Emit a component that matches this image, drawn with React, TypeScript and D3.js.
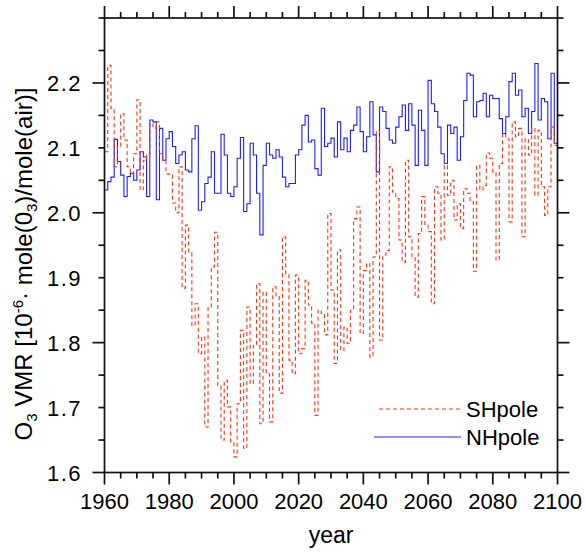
import React from 'react';
import * as d3 from 'd3';

const years = d3.range(1960, 2101);

// NH polar ozone, one value per year 1960..2100
const nhPole = [
  2.035, 2.048, 2.055, 2.113, 2.079, 2.058, 2.025, 2.056, 2.061, 2.05,
  2.066, 2.094, 2.086, 2.025, 2.143, 2.14, 2.02, 2.13, 2.081, 2.114,
  2.125, 2.102, 2.076, 2.089, 2.094, 2.066, 2.063, 2.114, 2.134, 2.004,
  2.017, 2.045, 2.055, 2.094, 2.03, 2.03, 2.121, 2.089, 2.03, 2.025,
  2.04, 2.084, 2.116, 2.002, 2.014, 2.107, 2.089, 2.03, 1.966, 2.073,
  2.107, 2.089, 2.084, 2.097, 2.086, 2.055, 2.04, 2.045, 2.045, 2.089,
  2.097, 2.135, 2.15, 2.109, 2.112, 2.068, 2.058, 2.161, 2.102, 2.107,
  2.115, 2.086, 2.14, 2.097, 2.115, 2.094, 2.127, 2.135, 2.163, 2.125,
  2.094, 2.117, 2.171, 2.12, 2.063, 2.163, 2.156, 2.13, 2.112, 2.107,
  2.132, 2.148, 2.166, 2.127, 2.168, 2.135, 2.073, 2.158, 2.127, 2.073,
  2.204, 2.168, 2.156, 2.132, 2.091, 2.076, 2.135, 2.122, 2.132, 2.081,
  2.117, 2.173, 2.215, 2.212, 2.148, 2.171, 2.173, 2.184, 2.148, 2.181,
  2.176, 2.176, 2.145, 2.122, 2.148, 2.202, 2.215, 2.181, 2.189, 2.148,
  2.161, 2.122, 2.156, 2.23, 2.143, 2.176, 2.171, 2.114, 2.215, 2.107,
  2.107,
];

// SH polar ozone, one value per year 1960..2100
const shPole = [
  2.094, 2.227, 2.161, 2.071, 2.102, 2.153, 2.112, 2.071, 2.06, 2.091,
  2.174, 2.035, 2.081, 2.091, 2.138, 2.13, 2.14, 2.091, 2.081, 2.06,
  2.058, 2.015, 2.0, 2.071, 1.884, 1.981, 1.938, 1.826, 1.86, 1.783,
  1.809, 1.67, 1.855, 1.917, 1.97, 1.734, 1.65, 1.742, 1.701, 1.647,
  1.624, 1.706, 1.819, 1.637, 1.855, 1.737, 1.796, 1.891, 1.675, 1.878,
  1.752, 1.678, 1.886, 1.871, 1.722, 1.963, 1.906, 1.773, 1.752, 1.904,
  1.783, 1.791, 1.896, 1.858, 1.83, 1.688, 1.85, 1.845, 1.812, 1.999,
  1.881, 1.768, 1.943, 1.788, 1.824, 1.799, 1.85, 1.991, 2.009, 1.814,
  1.911, 1.922, 1.778, 1.932, 2.127, 1.804, 1.935, 1.942, 2.071, 2.032,
  2.022, 1.958, 1.924, 2.081, 1.963, 1.932, 1.87, 1.968, 2.025, 1.981,
  1.971, 1.86, 2.04, 2.03, 1.958, 2.073, 2.027, 2.05, 1.989, 2.014,
  1.976, 2.037, 2.03, 2.017, 1.91, 2.073, 2.035, 2.042, 2.092, 2.084,
  2.063, 1.927, 2.076, 2.122, 2.114, 1.986, 2.14, 2.117, 2.13, 1.963,
  2.114, 2.089, 2.13, 2.027, 2.127, 2.04, 1.996, 2.04, 2.132, 2.104,
  2.094,
];

const xLabels = [1960, 1980, 2000, 2020, 2040, 2060, 2080, 2100];
const yLabels = [1.6, 1.7, 1.8, 1.9, 2.0, 2.1, 2.2];
const yMajor = [1.6, 1.8, 2.0, 2.2];
const seriesNames = ['SHpole', 'NHpole'];

const W = 585;
const H = 552;
const left = 104.5;
const right = 557.5;
const top = 18;
const bottom = 472.5;
const FONT = 'Liberation Sans, Arial, Helvetica, sans-serif';

export default function App() {
  const x = d3.scaleLinear().domain([1960, 2100]).range([left, right]);
  const y = d3.scaleLinear().domain([1.6, 2.3]).range([bottom, top]);

  const line = d3
    .line<number>()
    .x((d, i) => x(years[i]))
    .y((d) => y(d))
    .curve(d3.curveStepAfter);

  const xMinor = d3.range(1960, 2101, 5).filter((v) => v % 20 !== 0);
  const yMinor = d3.range(1.6, 2.301, 0.05).filter(
    (v) => !yMajor.some((m) => Math.abs(m - v) < 1e-6)
  );

  const ax = { stroke: '#111', strokeWidth: 1.7 };

  return (
    <svg
      width={W}
      height={H}
      style={{ position: 'absolute', left: 0, top: 0, background: '#fff' }}
      fontFamily={FONT}
    >
      {/* data */}
      <path d={line(nhPole) || ''} fill="none" stroke="#1e1eff" strokeWidth={1.1} />
      <path
        d={line(shPole) || ''}
        fill="none"
        stroke="#ff3010"
        strokeWidth={1.1}
        strokeDasharray="4,3"
      />

      {/* frame */}
      <rect x={left} y={top} width={right - left} height={bottom - top} fill="none" {...ax} />

      {/* x ticks, bottom + top, outward */}
      {xLabels.map((v) => (
        <g key={'xM' + v}>
          <line x1={x(v)} x2={x(v)} y1={bottom} y2={bottom + 12} {...ax} />
          <line x1={x(v)} x2={x(v)} y1={top} y2={top - 12} {...ax} />
        </g>
      ))}
      {xMinor.map((v) => (
        <g key={'xm' + v}>
          <line x1={x(v)} x2={x(v)} y1={bottom} y2={bottom + 6} {...ax} />
          <line x1={x(v)} x2={x(v)} y1={top} y2={top - 6} {...ax} />
        </g>
      ))}
      {xLabels.map((v) => (
        <text key={'xl' + v} x={x(v)} y={509} textAnchor="middle" fontSize={22}>
          {v}
        </text>
      ))}

      {/* y ticks, left + right, outward */}
      {yMajor.map((v) => (
        <g key={'yM' + v}>
          <line x1={left} x2={left - 12} y1={y(v)} y2={y(v)} {...ax} />
          <line x1={right} x2={right + 12} y1={y(v)} y2={y(v)} {...ax} />
        </g>
      ))}
      {yMinor.map((v) => (
        <g key={'ym' + v}>
          <line x1={left} x2={left - 6} y1={y(v)} y2={y(v)} {...ax} />
          <line x1={right} x2={right + 6} y1={y(v)} y2={y(v)} {...ax} />
        </g>
      ))}
      {yLabels.map((v) => (
        <text key={'yl' + v} x={82} y={y(v) + 8} textAnchor="end" fontSize={22} letterSpacing={1.5}>
          {v.toFixed(1)}
        </text>
      ))}

      {/* axis titles */}
      <text x={(left + right) / 2} y={543} textAnchor="middle" fontSize={23}>
        year
      </text>
      <text
        transform={`translate(31.5,264) rotate(-90)`}
        textAnchor="middle"
        fontSize={24}
      >
        O<tspan fontSize={15} dy={5}>3</tspan>
        <tspan dy={-5}> VMR [10</tspan>
        <tspan fontSize={15} dy={-9}>-6</tspan>
        <tspan dy={9}>· mole(0</tspan>
        <tspan fontSize={15} dy={5}>3</tspan>
        <tspan dy={-5}>)/mole(air)]</tspan>
      </text>

      {/* legend */}
      <line x1={379} x2={461} y1={409} y2={409} stroke="#ff3010" strokeWidth={1.1} strokeDasharray="4,3" />
      <text x={466} y={409} dy={8} fontSize={22}>
        {seriesNames[0]}
      </text>
      <line x1={374} x2={461} y1={437} y2={437} stroke="#1e1eff" strokeWidth={1.1} />
      <text x={466} y={437} dy={8} fontSize={22}>
        {seriesNames[1]}
      </text>
    </svg>
  );
}
